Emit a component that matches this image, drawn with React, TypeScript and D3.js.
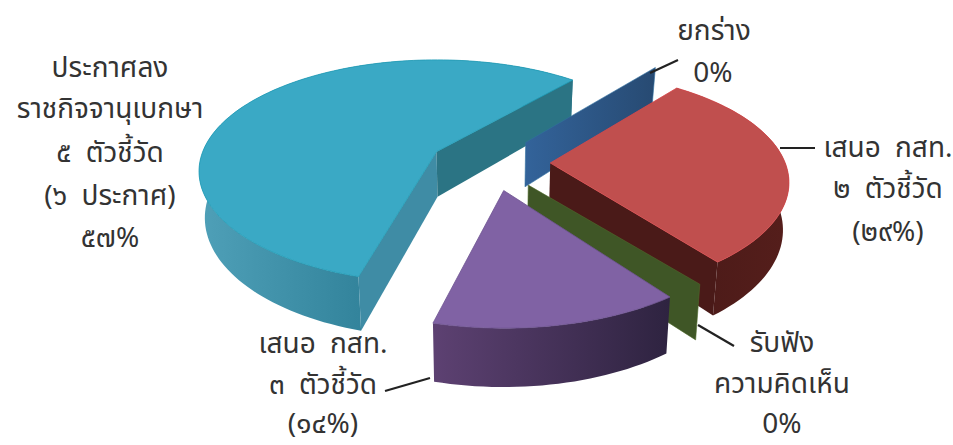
import * as d3 from "d3";

const categories = ["ยกร่าง", "เสนอ กสท. ๒", "รับฟังความคิดเห็น", "เสนอ กสท. ๓", "ประกาศลง"];
const values = [0, 29, 0, 14, 57];

const W = 953;
const H = 445;
const cx = 490;
const cy = 163;
const rx = 241; // horizontal radius of the projected disc
const ry = 108;
const persp = 0.176; // near side of the disc is drawn bigger
const depth = 46;
const explode = 0.25;
const startDeg = 37.8; // rotation of first slice, clockwise from 12 o'clock

const looks = [
  { top: "#2f5a8a", from: "#33639a", to: "#274a72", stroke: "#2f6fa0" },
  { top: "#c04f4e", from: "#4a1a18", to: "#551e1b", cut: "#4a1a18", stroke: "#d8474a" },
  { top: "#3f5626", from: "#3f5626", to: "#3f5626", stroke: "#4f6a2c" },
  { top: "#8062a4", from: "#5d4172", to: "#2e2340", stroke: "#6d5390" },
  { top: "#3aa9c5", from: "#4fa0b8", to: "#33849c", cut: "#3f8ca5", cutBack: "#2b7484", stroke: "#1f9cb6" },
];

// small per slice corrections, the source picture is not a clean projection
const fits = [
  { turn: 0, sx: 1, sy: 1 },
  { turn: 0, sx: 0.975, sy: 1 },
  { turn: 0, sx: 1, sy: 1 },
  { turn: 1.5, sx: 1, sy: 1.05 },
  { turn: 3.5, sx: 0.97, sy: 1 },
];

const labels = [
  { lines: ["ยกร่าง"], x: [714], y: [40] },
  { lines: ["0%"], x: [713], y: [82] },
  { lines: ["เสนอ กสท.", "๒ ตัวชี้วัด", "(๒๙%)"], x: [888, 888, 888], y: [157, 198, 241] },
  { lines: ["รับฟัง", "ความคิดเห็น", "0%"], x: [782, 782, 782], y: [352, 393, 433] },
  { lines: ["เสนอ กสท.", "๓ ตัวชี้วัด", "(๑๔%)"], x: [323, 323, 323], y: [353, 394, 433] },
  {
    lines: ["ประกาศลง", "ราชกิจจานุเบกษา", "๕ ตัวชี้วัด", "(๖ ประกาศ)", "๕๗%"],
    x: [110, 110, 110, 110, 110],
    y: [77, 118, 162, 205, 247],
  },
];

const leaders = [
  [650, 73, 678, 60],
  [780, 148, 815, 148],
  [698, 325, 734, 346],
  [385, 391, 430, 378],
];

const proj = (a: number, r = 1) => {
  const X = r * Math.cos(a);
  const Y = r * Math.sin(a);
  const w = 1 - persp * Y;
  return [(rx * X) / w, (ry * Y) / w];
};

const pie = d3
  .pie<number>()
  .sort(null)
  .startAngle((startDeg * Math.PI) / 180)
  .endAngle((startDeg * Math.PI) / 180 + 2 * Math.PI);

const slices = pie(values).map((d, i) => {
  const fit = fits[i];
  const turn = (fit.turn * Math.PI) / 180;
  const a0 = d.startAngle - Math.PI / 2;
  const a1 = d.endAngle - Math.PI / 2;
  const mid = (a0 + a1) / 2;
  const off = proj(mid, explode);
  const ox = cx + off[0];
  const oy = cy + off[1];
  const eY = explode * Math.sin(mid);
  const top = (a: number): [number, number] => {
    const p = proj(a + turn);
    return [ox + p[0] * fit.sx, oy + p[1] * fit.sy];
  };
  const bottomOf = (pt: [number, number], Y: number): [number, number] => [
    cx + (pt[0] - cx) * 0.98,
    pt[1] + depth / (1 - persp * Y),
  ];
  const bot = (a: number) => bottomOf(top(a), eY + Math.sin(a + turn));
  const apex: [number, number] = [ox, oy];
  const apexBot = bottomOf(apex, eY);
  const n = Math.max(2, Math.ceil((a1 - a0) / 0.03));
  const angs = d3.range(n + 1).map((k) => a0 + ((a1 - a0) * k) / n);
  return { i, a0, a1, angs, top, bot, apex, apexBot };
});

const line = d3.line<[number, number]>();
const poly = (pts: [number, number][]) => line(pts) + "Z";

const drawSlice = (s: (typeof slices)[number]) => {
  const look = looks[s.i];
  const { a0, a1, angs, top, bot, apex, apexBot } = s;
  if (values[s.i] === 0) {
    // zero share: only the flat cut wall shows
    return (
      <path
        key={s.i}
        d={poly([apex, top(a0), bot(a0), apexBot])}
        fill={`url(#wall${s.i})`}
        stroke={look.stroke}
        strokeWidth={0.6}
      />
    );
  }
  const rim = angs.map(top);
  const rimBot = angs.map(bot);
  const xs = rim.map((p) => p[0]);
  return (
    <g key={s.i}>
      <linearGradient
        id={`side${s.i}`}
        gradientUnits="userSpaceOnUse"
        x1={d3.min(xs)}
        x2={s.i === 4 ? top(a0)[0] : d3.max(xs)}
        y1={0}
        y2={0}
      >
        <stop offset="0%" stopColor={look.from} />
        <stop offset="100%" stopColor={look.to} />
      </linearGradient>
      <path d={poly([...rim, ...rimBot.reverse()])} fill={`url(#side${s.i})`} />
      {look.cut && s.i === 4 && <path d={poly([apex, top(a0), bot(a0), apexBot])} fill={look.cut} />}
      {look.cutBack && <path d={poly([apex, top(a1), bot(a1), apexBot])} fill={look.cutBack} />}
      {look.cut && s.i === 1 && <path d={poly([apex, top(a1), bot(a1), apexBot])} fill={look.cut} />}
      <path d={poly([apex, ...rim])} fill={look.top} stroke={look.stroke} strokeWidth={0.8} strokeLinejoin="round" />
    </g>
  );
};

export default function App() {
  // painter's order, back to front
  const order = [4, 0, 1, 2, 3];
  return (
    <svg
      width={W}
      height={H}
      viewBox={`0 0 ${W} ${H}`}
      style={{ position: "fixed", left: 0, top: 0, background: "#fff" }}
      role="img"
      aria-label={categories.join(", ")}
    >
      <defs>
        {looks.map((l, i) => (
          <linearGradient id={`wall${i}`} key={i} x1="0%" x2="100%" y1="0%" y2="0%">
            <stop offset="0%" stopColor={l.from} />
            <stop offset="100%" stopColor={l.to} />
          </linearGradient>
        ))}
      </defs>
      {order.map((i) => drawSlice(slices[i]))}
      {leaders.map((l, i) => (
        <line key={i} x1={l[0]} y1={l[1]} x2={l[2]} y2={l[3]} stroke="#222" strokeWidth={2.2} />
      ))}
      <g
        fontFamily="'Noto Sans Thai', 'Noto Sans', 'DejaVu Sans', sans-serif"
        fontSize={28}
        fill="#333"
        textAnchor="middle"
        style={{ wordSpacing: 7 }}
      >
        {labels.map((l, i) =>
          l.lines.map((t, k) => (
            <text key={`${i}-${k}`} x={l.x[k]} y={l.y[k]}>
              {t}
            </text>
          ))
        )}
      </g>
    </svg>
  );
}
